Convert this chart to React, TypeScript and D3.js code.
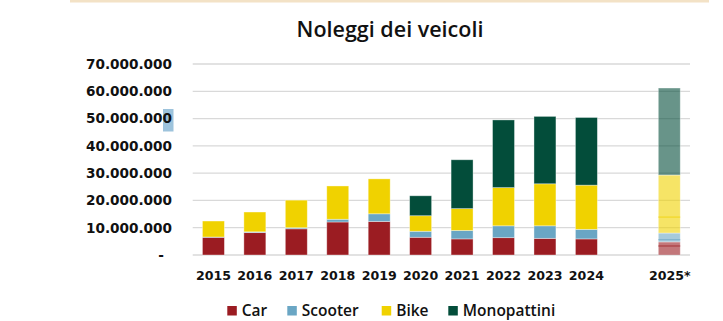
import React from "react";
import * as d3 from "d3";

const categories = ["2015", "2016", "2017", "2018", "2019", "2020", "2021", "2022", "2023", "2024", "", "2025*"];
const seriesNames = ["Car", "Scooter", "Bike", "Monopattini"];
const seriesColors = ["#9b1c22", "#6aa6c4", "#f0d200", "#034d3a"];
const car = [6.5e6, 8.2e6, 9.6e6, 12.1e6, 12.3e6, 6.5e6, 5.9e6, 6.35e6, 6.1e6, 5.9e6, 0, 4.8e6];
const scooter = [0.1e6, 0.3e6, 0.4e6, 1.0e6, 2.8e6, 2.2e6, 3.1e6, 4.35e6, 4.6e6, 3.5e6, 0, 3.25e6];
const bike = [5.85e6, 7.25e6, 10.1e6, 12.2e6, 12.8e6, 5.7e6, 8.0e6, 14.0e6, 15.4e6, 16.2e6, 0, 21.25e6];
const mono = [0, 0, 0, 0, 0, 7.3e6, 17.9e6, 24.8e6, 24.7e6, 24.8e6, 0, 31.9e6];
const forecastCategory = "2025*";
const forecastMarks = [3.3e6, 5.6e6, 13.9e6];
const yTicks = [0, 10e6, 20e6, 30e6, 40e6, 50e6, 60e6, 70e6];
const yTickLabels = ["-", "10.000.000", "20.000.000", "30.000.000", "40.000.000", "50.000.000", "60.000.000", "70.000.000"];

export default function App() {
  const W = 723, H = 321;
  const x = d3.scaleBand<string>().domain(categories).range([192.7, 690]).paddingInner(0.47).paddingOuter(0.235);
  const y = d3.scaleLinear().domain([0, 70e6]).range([255, 64]);
  const rows = categories.map((c, i) => ({ cat: c, Car: car[i], Scooter: scooter[i], Bike: bike[i], Monopattini: mono[i] }));
  const stack = d3.stack<any>().keys(seriesNames)(rows);
  const labelFont = "'DejaVu Sans', sans-serif";
  const legendX = [227.3, 287.3, 381.7, 448.3];
  return (
    <svg width={W} height={H} style={{ position: "absolute", left: 0, top: 0, background: "#fff" }}>
      <rect x={70} y={0} width={639} height={2.5} fill="#f3e2c6" />
      <text x={390} y={37} textAnchor="middle" fontFamily="'Open Sans', sans-serif" fontSize={21.5} fontWeight={600} fill="#111">
        Noleggi dei veicoli
      </text>
      {yTicks.map((t) => (
        <line key={t} x1={192.7} x2={690} y1={y(t)} y2={y(t)} stroke="#d9d9d9" strokeWidth={1.3} />
      ))}
      <rect x={163} y={109} width={10.5} height={22.5} fill="#9dc3dc" />
      {yTicks.map((t, i) => (
        <text key={t} x={i === 0 ? 164 : 172} y={y(t) + 4.8} textAnchor="end" fontFamily={labelFont} fontWeight="bold" fontSize={13.6} fill="#111">
          {yTickLabels[i]}
        </text>
      ))}
      {stack.map((s, si) => (
        <g key={s.key}>
          {s.map((d, i) => {
            const c = categories[i];
            if (!c || d[1] - d[0] <= 0) return null;
            const isF = c === forecastCategory;
            return (
              <rect
                key={c}
                x={x(c)}
                width={x.bandwidth()}
                y={y(d[1])}
                height={y(d[0]) - y(d[1])}
                fill={seriesColors[si]}
                fillOpacity={isF ? 0.6 : 1}
                stroke="#ffffff"
                strokeOpacity={0.45}
                strokeWidth={0.8}
              />
            );
          })}
        </g>
      ))}
      {forecastMarks.map((v, i) => (
        <line key={i} x1={x(forecastCategory)} x2={(x(forecastCategory) as number) + x.bandwidth()} y1={y(v)} y2={y(v)} stroke={seriesColors[i]} strokeOpacity={0.75} strokeWidth={1} />
      ))}
      {categories.map((c) =>
        c ? (
          <text key={c} x={(x(c) as number) + x.bandwidth() / 2 + (c === forecastCategory ? 0.5 : 0)} y={280} textAnchor="middle" fontFamily={labelFont} fontWeight="bold" fontSize={12.6} fill="#111">
            {c}
          </text>
        ) : null
      )}
      {seriesNames.map((n, i) => (
        <g key={n}>
          <rect x={legendX[i]} y={306} width={9.5} height={9.5} fill={seriesColors[i]} />
          <text x={legendX[i] + 14.5} y={315.7} fontFamily="'Open Sans', sans-serif" fontSize={15.5} fontWeight={600} fill="#111">
            {n}
          </text>
        </g>
      ))}
    </svg>
  );
}
